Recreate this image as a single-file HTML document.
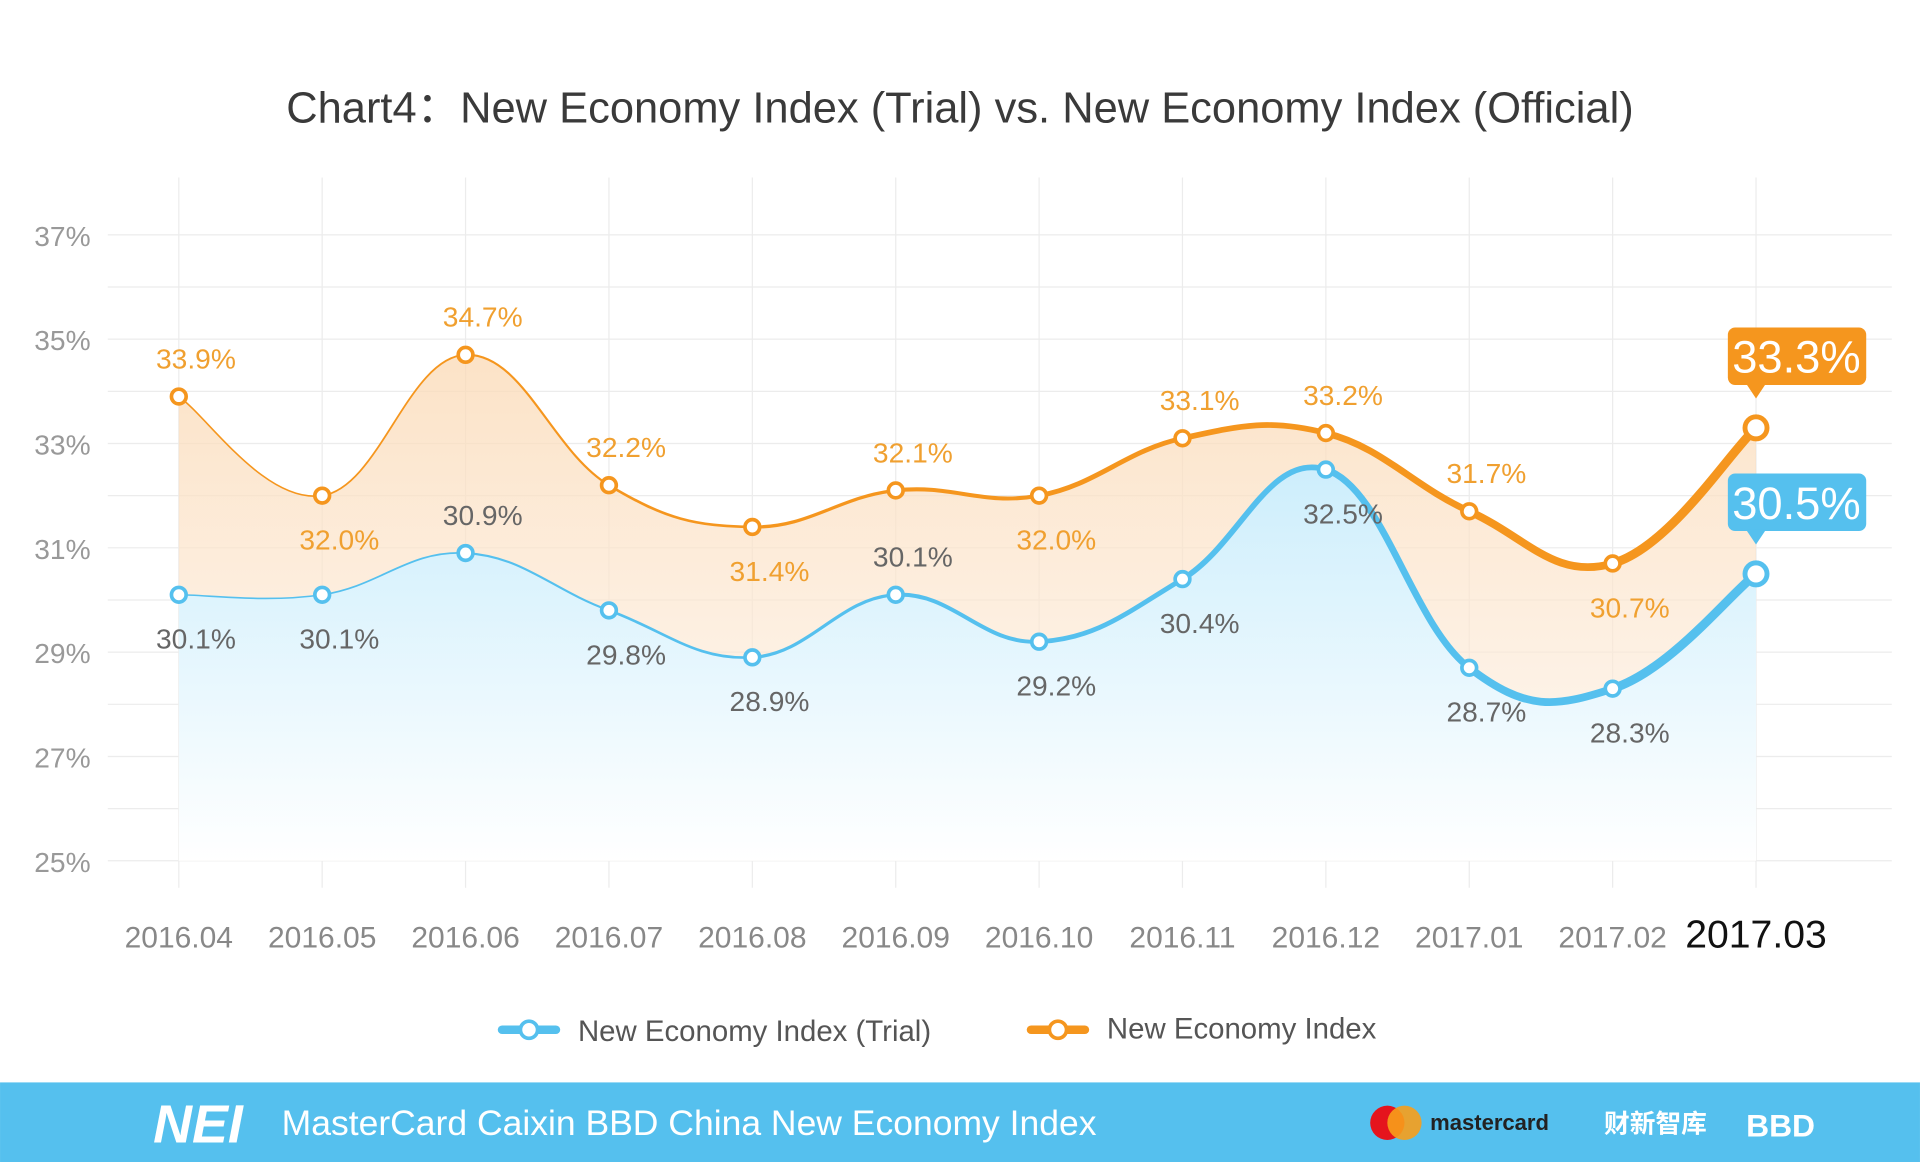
<!DOCTYPE html>
<html><head><meta charset="utf-8"><style>
html,body{margin:0;padding:0;background:#fff;}
svg{display:block;font-family:"Liberation Sans","Noto Sans CJK SC",sans-serif;}
</style></head><body>
<svg id="chart" width="1920" height="1162" viewBox="0 0 1568 949" xmlns="http://www.w3.org/2000/svg">
<defs>
<linearGradient id="gO" x1="0" y1="0" x2="0" y2="1"><stop offset="0" stop-color="#fbd9b4" stop-opacity="0.75"/><stop offset="1" stop-color="#fdf3ea" stop-opacity="0.6"/></linearGradient>
<linearGradient id="gB" x1="0" y1="0" x2="0" y2="1"><stop offset="0" stop-color="#cdeefc"/><stop offset="1" stop-color="#ffffff"/></linearGradient>
</defs>
<rect width="1568" height="949" fill="#fff"/>
<text x="784" y="100" text-anchor="middle" font-size="35.5" fill="#3a3a3a">Chart4：New Economy Index (Trial) vs. New Economy Index (Official)</text>
<g id="grid"></g><g id="areas"></g><g id="lines"></g><g id="pts"></g><g id="labels"></g><g id="axes"></g>
<g>
<g>
<line x1="410" y1="841" x2="454" y2="841" stroke="#55c0ee" stroke-width="7" stroke-linecap="round"/>
<circle cx="432" cy="841" r="7" fill="#fff" stroke="#55c0ee" stroke-width="3"/>
<text x="472" y="850" font-size="24" fill="#555">New Economy Index (Trial)</text></g>
<g>
<line x1="842" y1="841" x2="886" y2="841" stroke="#f5961e" stroke-width="7" stroke-linecap="round"/>
<circle cx="864" cy="841" r="7" fill="#fff" stroke="#f5961e" stroke-width="3"/>
<text x="904" y="848" font-size="24" fill="#555">New Economy Index</text></g>
</g>
<g>
<rect x="0" y="884" width="1568" height="65" fill="#55c0ee"/>
<text x="125" y="933" font-size="44" font-weight="bold" fill="#fff" font-style="italic">NEI</text>
<text x="230" y="927" font-size="29" fill="#fff">MasterCard Caixin BBD China New Economy Index</text>
<circle cx="1133" cy="917" r="14" fill="#e5141d"/><circle cx="1147" cy="917" r="14" fill="#f79e1b" opacity="0.9"/>
<text x="1168" y="923" font-size="18" font-weight="bold" fill="#222">mastercard</text>
<text x="1310" y="925" font-size="21" font-weight="bold" fill="#fff" font-family="Noto Sans CJK SC,sans-serif">财新智库</text>
<text x="1426" y="928" font-size="26" font-weight="bold" fill="#fff">BBD</text>
</g>
</svg>
<script>
const categories=["2016.04","2016.05","2016.06","2016.07","2016.08","2016.09","2016.10","2016.11","2016.12","2017.01","2017.02","2017.03"];
const trialValues=[30.1,30.1,30.9,29.8,28.9,30.1,29.2,30.4,32.5,28.7,28.3,30.5];
const officialValues=[33.9,32.0,34.7,32.2,31.4,32.1,32.0,33.1,33.2,31.7,30.7,33.3];
const trialLabelAbove=[0,0,1,0,0,1,0,0,0,0,0,1];
const officialLabelAbove=[1,0,1,1,0,1,0,1,1,1,0,1];
const yTicks=[25,27,29,31,33,35,37];
const NS="http://www.w3.org/2000/svg";
function X(i){return 146+i*117.1;}
function Y(v){return 703-(v-25)*42.6;}
function mk(tag,attrs,parent){const e=document.createElementNS(NS,tag);for(const k in attrs)e.setAttribute(k,attrs[k]);parent.appendChild(e);return e;}
const grid=document.getElementById('grid'),axes=document.getElementById('axes');
for(let v=25;v<=37;v++){const l=mk('line',{x1:88,x2:1545,y1:Y(v),y2:Y(v),stroke:'#ececec','stroke-width':1},grid);

}
categories.forEach((c,i)=>{const l=mk('line',{x1:X(i),x2:X(i),y1:145,y2:725,stroke:'#ececec','stroke-width':1},grid);


const last=i===categories.length-1;
const t=mk('text',{x:X(i),y:774,'text-anchor':'middle','font-size':last?32:24.5,fill:last?'#111':'#888'},axes);t.textContent=c;

});
yTicks.forEach(v=>{const t=mk('text',{x:74,y:Y(v)+9,'text-anchor':'end','font-size':23,fill:'#999'},axes);t.textContent=v+'%';

});
function segs(vals){const p=vals.map((v,i)=>[X(i),Y(v)]);const out=[];
for(let i=0;i<p.length-1;i++){const p0=p[Math.max(0,i-1)],p1=p[i],p2=p[i+1],p3=p[Math.min(p.length-1,i+2)];const k=0.2;
const c1=[p1[0]+(p2[0]-p0[0])*k,p1[1]+(p2[1]-p0[1])*k],c2=[p2[0]-(p3[0]-p1[0])*k,p2[1]-(p3[1]-p1[1])*k];
out.push({s:p1,c1,c2,e:p2});}return out;}
function pathD(sg){let d='M'+sg[0].s.join(',');sg.forEach(s=>d+=' C'+s.c1.join(',')+' '+s.c2.join(',')+' '+s.e.join(','));return d;}
const areas=document.getElementById('areas'),lines=document.getElementById('lines'),pts=document.getElementById('pts'),labels=document.getElementById('labels');
const n=categories.length;
function series(vals,color,fill,above,name,labelColor){
const sg=segs(vals);const d=pathD(sg);
const a=mk('path',{d:d+' L'+X(n-1)+',703 L'+X(0)+',703 Z',fill:fill},areas);


sg.forEach((s,i)=>{const w=1.3+Math.pow(i/(n-2),1.6)*6;
const l=mk('path',{d:'M'+s.s.join(',')+' C'+s.c1.join(',')+' '+s.c2.join(',')+' '+s.e.join(','),fill:'none',stroke:color,'stroke-width':w,'stroke-linecap':'round'},lines);

});
vals.forEach((v,i)=>{const last=i===n-1;
const c=mk('circle',{cx:X(i),cy:Y(v),r:last?9:6,fill:'#fff',stroke:color,'stroke-width':last?4:3},pts);


if(last){const by=Y(v)-82;
const g=mk('g',{},labels);


mk('rect',{x:X(i)-23,y:by,width:113,height:47,rx:6,fill:color},g);
mk('path',{d:`M${X(i)-8},${by+46} L${X(i)},${by+58} L${X(i)+8},${by+46} Z`,fill:color},g);
const t=mk('text',{x:X(i)+33,y:by+37,'text-anchor':'middle','font-size':37,fill:'#fff'},g);t.textContent=v.toFixed(1)+'%';}
else{const t=mk('text',{x:X(i)+14,y:above[i]?Y(v)-23:Y(v)+44,'text-anchor':'middle','font-size':23,fill:labelColor},labels);t.textContent=v.toFixed(1)+'%';

}});}
series(officialValues,'#f5961e','url(#gO)',officialLabelAbove,'official','#f0a030');
series(trialValues,'#55c0ee','url(#gB)',trialLabelAbove,'trial','#666');
</script>
</body></html>
